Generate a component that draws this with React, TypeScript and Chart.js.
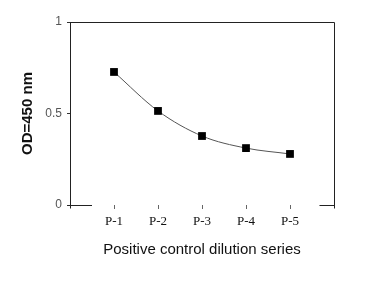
import React, { useEffect, useRef } from 'react';
import { Chart, registerables } from 'chart.js';

Chart.register(...registerables);

const categories = ['P-1', 'P-2', 'P-3', 'P-4', 'P-5'];
const odValues = [0.727, 0.514, 0.377, 0.311, 0.279];
const yTickValues = [0, 0.5, 1];
const yTickLabels = ['0', '0.5', '1'];
const xTitle = 'Positive control dilution series';
const yTitle = 'OD=450 nm';

const framePlugin = {
  id: 'frame',
  afterDraw(chart: any) {
    const { ctx, chartArea } = chart;
    const xs = chart.scales.x;
    ctx.save();
    ctx.strokeStyle = '#222';
    ctx.lineWidth = 1;
    ctx.beginPath();
    const l = Math.round(chartArea.left) + 0.5;
    const r = Math.round(chartArea.right) + 0.5;
    const t = Math.round(chartArea.top) + 0.5;
    const b = Math.round(chartArea.bottom) + 0.5;
    ctx.moveTo(l, t);
    ctx.lineTo(r, t);
    ctx.moveTo(r, t);
    ctx.lineTo(r, b + 3);
    ctx.moveTo(l - 3, b);
    ctx.lineTo(xs.getPixelForValue(0.5), b);
    ctx.moveTo(xs.getPixelForValue(5.67), b);
    ctx.lineTo(r, b);
    ctx.moveTo(l, b);
    ctx.lineTo(l, b + 3);
    ctx.stroke();
    ctx.restore();
  },
};

export default function App() {
  const ref = useRef<HTMLCanvasElement>(null);
  useEffect(() => {
    if (!ref.current) return;
    const chart = new Chart(ref.current, {
      type: 'line',
      data: {
        datasets: [
          {
            data: odValues.map((v, i) => ({ x: i + 1, y: v })),
            borderColor: '#555',
            borderWidth: 1,
            cubicInterpolationMode: 'monotone',
            pointStyle: 'rect',
            pointRadius: 5.5,
            pointBackgroundColor: '#000',
            pointBorderColor: '#000',
            pointBorderWidth: 0,
          },
        ],
      },
      plugins: [framePlugin],
      options: {
        animation: false,
        responsive: false,
        maintainAspectRatio: false,
        layout: { padding: { left: 0, right: 35, top: 22, bottom: 0 } },
        plugins: { legend: { display: false }, tooltip: { enabled: false } },
        scales: {
          x: {
            type: 'linear',
            min: 0,
            max: 6,
            afterBuildTicks: (s: any) => {
              s.ticks = categories.map((_, i) => ({ value: i + 1 }));
            },
            afterFit: (s: any) => {
              s.height = 85;
            },
            ticks: {
              autoSkip: false,
              maxRotation: 0,
              padding: 5,
              color: '#111',
              font: { family: 'Liberation Serif', size: 13 },
              callback: (v: any) => categories[Math.round(Number(v)) - 1] ?? '',
            },
            grid: { display: true, drawOnChartArea: false, tickLength: 4, color: '#666' },
            border: { display: false },
            title: {
              display: true,
              text: xTitle,
              color: '#111',
              font: { family: 'Liberation Sans', size: 15 },
              padding: { top: 0, bottom: 31 },
            },
          },
          y: {
            min: 0,
            max: 1,
            afterBuildTicks: (s: any) => {
              s.ticks = yTickValues.map((v) => ({ value: v }));
            },
            afterFit: (s: any) => {
              s.width = 70;
            },
            ticks: {
              padding: 5,
              color: '#555',
              font: { family: 'Liberation Sans', size: 12 },
              callback: (v: any) => {
                const i = yTickValues.indexOf(Number(v));
                return i >= 0 ? yTickLabels[i] : '';
              },
            },
            grid: { display: true, drawOnChartArea: false, tickLength: 3, color: '#333' },
            border: { display: true, color: '#222' },
            title: {
              display: true,
              text: yTitle,
              color: '#111',
              font: { family: 'Liberation Sans', size: 15, weight: 'bold' },
              padding: { top: 19, bottom: 0 },
            },
          },
        },
      },
    } as any);
    return () => chart.destroy();
  }, []);
  return (
    <div style={{ position: 'absolute', left: 0, top: 0, width: 369, height: 290 }}>
      <canvas ref={ref} width={369} height={290} style={{ width: 369, height: 290 }} />
    </div>
  );
}
